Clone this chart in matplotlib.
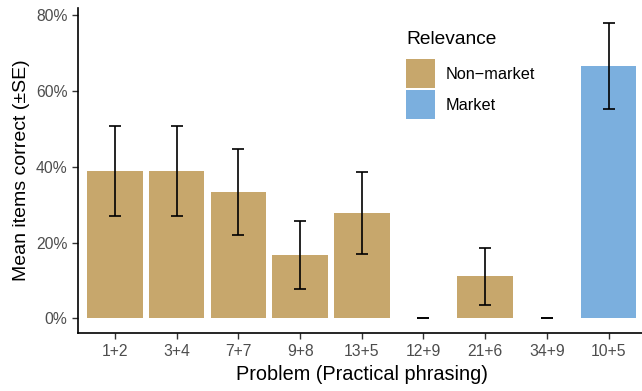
import numpy as np
import matplotlib.pyplot as plt
from matplotlib.patches import Patch

plt.rcParams['font.family'] = ['Liberation Sans', 'DejaVu Sans']

# Data (percent correct, with standard errors)
problems = ["1+2", "3+4", "7+7", "9+8", "13+5", "12+9", "21+6", "34+9", "10+5"]
mean_pct = [38.9, 38.9, 33.3, 16.7, 27.8, 0.0, 11.1, 0.0, 66.7]
se_pct = [11.8, 11.8, 11.4, 9.0, 10.9, 0.0, 7.6, 0.0, 11.4]
relevance = ["Non-market"] * 8 + ["Market"]

colors = {"Non-market": "#C7A76C", "Market": "#7BAFDE"}

fig = plt.figure(figsize=(6.42, 3.91), dpi=100)
ax = fig.add_axes([0.1215, 0.148, 0.884, 0.832])

x = np.arange(len(problems))
ax.bar(x, mean_pct, width=0.9, color=[colors[r] for r in relevance])
ax.errorbar(x, mean_pct, yerr=se_pct, fmt="none", ecolor="black",
            elinewidth=1.2, capsize=4.6, capthick=1.2)

ax.set_xlim(-0.6, len(problems) - 0.4)
ax.set_ylim(-3.9, 82.0)
ax.set_xticks(x)
ax.set_xticklabels(problems)
ax.set_yticks([0, 20, 40, 60, 80])
ax.set_yticklabels(["0%", "20%", "40%", "60%", "80%"])
ax.tick_params(labelsize=11.3, labelcolor="#4D4D4D", length=4, width=1.0,
               color="#333333")

for s in ["top", "right"]:
    ax.spines[s].set_visible(False)
for s in ["left", "bottom"]:
    ax.spines[s].set_linewidth(1.2)

ax.set_xlabel("Problem (Practical phrasing)", fontsize=14.3, labelpad=5)
ax.set_ylabel("Mean items correct (±SE)", fontsize=14.0, labelpad=4)

handles = [Patch(facecolor=colors["Non-market"], label="Non\u2212market"),
           Patch(facecolor=colors["Market"], label="Market")]
leg = fig.legend(handles=handles, title="Relevance", loc="upper left",
                 bbox_to_anchor=(398 / 642, 1 - 23 / 391), frameon=False,
                 fontsize=11.7, title_fontsize=13.8, handlelength=1.78,
                 handleheight=2.35, labelspacing=0.15, handletextpad=0.68,
                 borderpad=0, alignment="left")
leg._legend_box.sep = 8  # gap between title and keys

fig.savefig("out.png", dpi=100)
